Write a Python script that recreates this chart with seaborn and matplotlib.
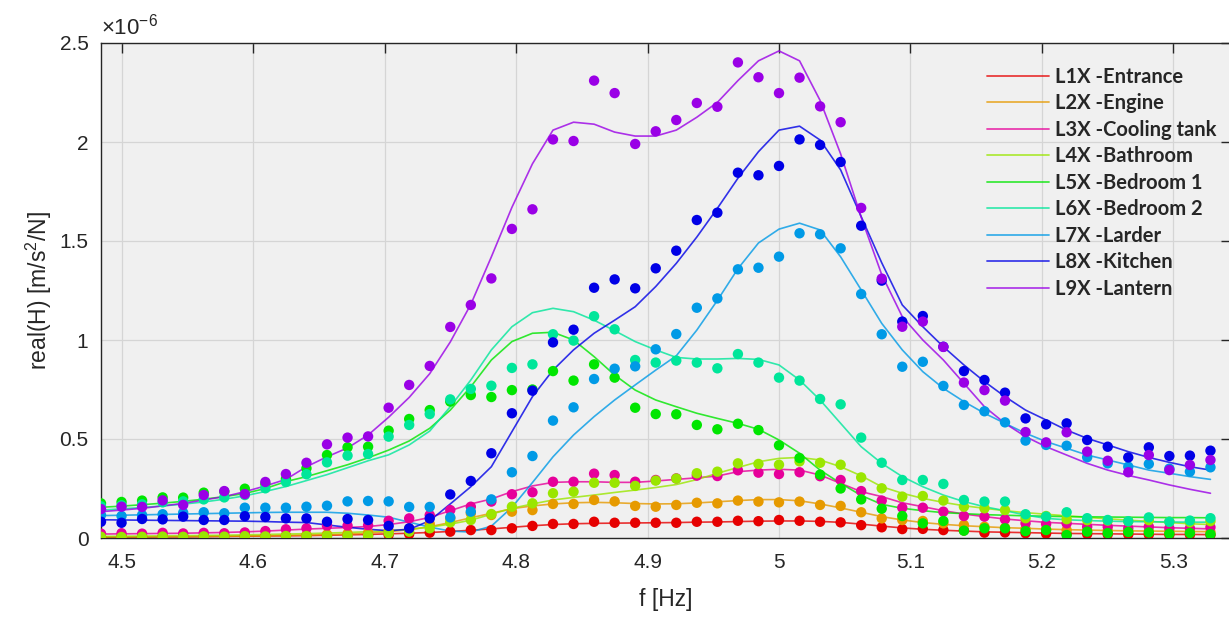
import numpy as np
import pandas as pd
import matplotlib
matplotlib.use('Agg')
import matplotlib.pyplot as plt
import seaborn as sns
from matplotlib.lines import Line2D
from matplotlib.ticker import FormatStrFormatter

# frequency bins, 1/64 Hz apart
freq = np.arange(287, 342) / 64

series = ['L1X -Entrance', 'L2X -Engine', 'L3X -Cooling tank', 'L4X -Bathroom',
          'L5X -Bedroom 1', 'L6X -Bedroom 2', 'L7X -Larder', 'L8X -Kitchen', 'L9X -Lantern']
colors = ['#e60000', '#e69a00', '#e6009a', '#9ae600', '#00e600',
          '#00e69a', '#009ae6', '#0000e6', '#9a00e6']

# measured real(H), units of 1e-6 m/s^2/N
entrance_pts = [0.005, 0.006, 0.006, 0.007, 0.007, 0.008, 0.008, 0.009, 0.010, 0.010, 0.011, 0.012, 0.013, 0.014,
                0.016, 0.020, 0.027, 0.032, 0.040, 0.040, 0.049, 0.061, 0.071, 0.071, 0.082, 0.077, 0.077, 0.077,
                0.077, 0.082, 0.082, 0.087, 0.085, 0.091, 0.087, 0.082, 0.079, 0.065, 0.054, 0.045, 0.046, 0.040,
                0.038, 0.027, 0.028, 0.024, 0.022, 0.020, 0.020, 0.018, 0.018, 0.017, 0.016, 0.016, 0.015]
engine_pts = [0.004, 0.005, 0.005, 0.006, 0.006, 0.007, 0.008, 0.009, 0.010, 0.012, 0.015, 0.018, 0.022, 0.027,
              0.035, 0.048, 0.071, 0.099, 0.125, 0.116, 0.133, 0.141, 0.172, 0.172, 0.192, 0.185, 0.162, 0.158,
              0.167, 0.178, 0.175, 0.189, 0.184, 0.180, 0.184, 0.167, 0.162, 0.130, 0.099, 0.091, 0.086, 0.074,
              0.066, 0.057, 0.052, 0.046, 0.044, 0.040, 0.038, 0.036, 0.034, 0.034, 0.032, 0.030, 0.030]
cooling_pts = [0.022, 0.024, 0.022, 0.026, 0.023, 0.026, 0.024, 0.028, 0.035, 0.044, 0.049, 0.062, 0.062, 0.064,
               0.087, 0.099, 0.116, 0.141, 0.158, 0.184, 0.221, 0.231, 0.284, 0.284, 0.325, 0.318, 0.284, 0.293,
               0.301, 0.315, 0.313, 0.342, 0.330, 0.323, 0.332, 0.312, 0.293, 0.237, 0.189, 0.153, 0.153, 0.133,
               0.111, 0.108, 0.094, 0.074, 0.071, 0.074, 0.057, 0.057, 0.049, 0.057, 0.049, 0.049, 0.054]
bathroom_pts = [0.006, 0.005, 0.006, 0.007, 0.006, 0.008, 0.007, 0.009, 0.008, 0.010, 0.010, 0.011, 0.011, 0.012,
                0.024, 0.032, 0.049, 0.079, 0.091, 0.121, 0.158, 0.175, 0.226, 0.234, 0.279, 0.279, 0.263, 0.290,
                0.300, 0.327, 0.335, 0.377, 0.374, 0.370, 0.387, 0.380, 0.370, 0.306, 0.251, 0.209, 0.212, 0.189,
                0.158, 0.150, 0.141, 0.100, 0.111, 0.095, 0.090, 0.088, 0.085, 0.090, 0.082, 0.080, 0.085]
bedroom1_pts = [0.175, 0.182, 0.189, 0.205, 0.204, 0.229, 0.234, 0.249, 0.273, 0.298, 0.352, 0.419, 0.458, 0.461,
                0.542, 0.601, 0.646, 0.689, 0.722, 0.712, 0.747, 0.750, 0.843, 0.795, 0.877, 0.810, 0.658, 0.626,
                0.625, 0.571, 0.549, 0.577, 0.545, 0.468, 0.404, 0.320, 0.250, 0.195, 0.148, 0.111, 0.074, 0.086,
                0.037, 0.049, 0.049, 0.035, 0.040, 0.015, 0.032, 0.025, 0.030, 0.028, 0.022, 0.025, 0.019]
bedroom2_pts = [0.160, 0.165, 0.170, 0.180, 0.185, 0.195, 0.205, 0.217, 0.251, 0.283, 0.322, 0.382, 0.416, 0.424,
                0.512, 0.571, 0.626, 0.700, 0.753, 0.769, 0.859, 0.877, 1.029, 0.997, 1.120, 1.054, 0.899, 0.886,
                0.896, 0.886, 0.857, 0.929, 0.886, 0.810, 0.795, 0.702, 0.675, 0.507, 0.380, 0.293, 0.293, 0.273,
                0.192, 0.184, 0.184, 0.120, 0.108, 0.130, 0.100, 0.091, 0.085, 0.104, 0.082, 0.088, 0.100]
larder_pts = [0.116, 0.111, 0.116, 0.120, 0.128, 0.130, 0.125, 0.153, 0.153, 0.153, 0.158, 0.163, 0.185, 0.187,
              0.185, 0.157, 0.157, 0.104, 0.133, 0.195, 0.332, 0.414, 0.593, 0.660, 0.803, 0.855, 0.867, 0.953,
              1.030, 1.163, 1.210, 1.357, 1.365, 1.421, 1.539, 1.534, 1.463, 1.232, 1.029, 0.865, 0.890, 0.768,
              0.672, 0.640, 0.584, 0.492, 0.470, 0.466, 0.408, 0.377, 0.360, 0.374, 0.350, 0.335, 0.357]
kitchen_pts = [0.082, 0.077, 0.096, 0.094, 0.108, 0.091, 0.091, 0.110, 0.106, 0.099, 0.099, 0.082, 0.096, 0.091,
               0.061, 0.049, 0.099, 0.220, 0.288, 0.428, 0.630, 0.744, 0.988, 1.052, 1.264, 1.306, 1.261, 1.362,
               1.451, 1.606, 1.643, 1.845, 1.832, 1.879, 2.013, 1.985, 1.899, 1.577, 1.300, 1.093, 1.121, 0.966,
               0.843, 0.798, 0.734, 0.604, 0.574, 0.579, 0.495, 0.461, 0.407, 0.458, 0.414, 0.416, 0.441]
lantern_pts = [0.146, 0.158, 0.157, 0.190, 0.167, 0.217, 0.237, 0.222, 0.283, 0.323, 0.380, 0.473, 0.507, 0.513,
               0.658, 0.773, 0.869, 1.066, 1.177, 1.311, 1.561, 1.660, 2.013, 2.005, 2.310, 2.247, 1.990, 2.054,
               2.111, 2.197, 2.178, 2.402, 2.327, 2.247, 2.325, 2.180, 2.100, 1.667, 1.310, 1.067, 1.093, 0.965,
               0.785, 0.747, 0.694, 0.535, 0.483, 0.534, 0.436, 0.390, 0.332, 0.419, 0.343, 0.369, 0.394]

# fitted curves at the same bins
entrance_fit = [0.004, 0.005, 0.005, 0.006, 0.006, 0.007, 0.008, 0.009, 0.010, 0.011, 0.012, 0.014, 0.016, 0.018,
                0.021, 0.024, 0.028, 0.033, 0.039, 0.046, 0.054, 0.062, 0.068, 0.072, 0.074, 0.075, 0.076, 0.077,
                0.078, 0.080, 0.081, 0.083, 0.085, 0.086, 0.086, 0.084, 0.079, 0.070, 0.060, 0.051, 0.044, 0.039,
                0.035, 0.031, 0.029, 0.027, 0.025, 0.023, 0.022, 0.021, 0.020, 0.019, 0.018, 0.018, 0.017]
engine_fit = [0.004, 0.005, 0.005, 0.006, 0.007, 0.008, 0.009, 0.010, 0.011, 0.013, 0.015, 0.017, 0.020, 0.025,
              0.032, 0.042, 0.057, 0.078, 0.102, 0.125, 0.148, 0.162, 0.172, 0.178, 0.180, 0.178, 0.174, 0.172,
              0.173, 0.177, 0.183, 0.189, 0.194, 0.194, 0.188, 0.172, 0.152, 0.130, 0.108, 0.091, 0.078, 0.069,
              0.062, 0.057, 0.052, 0.049, 0.045, 0.042, 0.040, 0.038, 0.036, 0.035, 0.034, 0.033, 0.032]
cooling_fit = [0.020, 0.021, 0.022, 0.023, 0.024, 0.026, 0.028, 0.031, 0.035, 0.040, 0.045, 0.049, 0.053, 0.058,
               0.068, 0.082, 0.104, 0.138, 0.172, 0.197, 0.234, 0.263, 0.281, 0.284, 0.284, 0.281, 0.281, 0.288,
               0.296, 0.304, 0.313, 0.335, 0.343, 0.347, 0.343, 0.318, 0.276, 0.234, 0.209, 0.178, 0.158, 0.138,
               0.121, 0.108, 0.096, 0.087, 0.079, 0.074, 0.069, 0.064, 0.060, 0.056, 0.052, 0.049, 0.046]
bathroom_fit = [0.008, 0.009, 0.010, 0.011, 0.012, 0.013, 0.014, 0.016, 0.018, 0.020, 0.022, 0.025, 0.028, 0.032,
                0.037, 0.044, 0.055, 0.070, 0.090, 0.120, 0.150, 0.172, 0.192, 0.205, 0.217, 0.230, 0.242, 0.255,
                0.270, 0.295, 0.327, 0.356, 0.385, 0.402, 0.407, 0.394, 0.360, 0.314, 0.259, 0.226, 0.200, 0.180,
                0.163, 0.150, 0.138, 0.128, 0.120, 0.112, 0.104, 0.097, 0.090, 0.084, 0.078, 0.072, 0.068]
bedroom1_fit = [0.155, 0.161, 0.168, 0.176, 0.185, 0.196, 0.209, 0.225, 0.250, 0.285, 0.310, 0.340, 0.370, 0.405,
                0.444, 0.490, 0.554, 0.646, 0.764, 0.899, 0.992, 1.034, 1.039, 1.000, 0.916, 0.823, 0.747, 0.697,
                0.663, 0.630, 0.604, 0.579, 0.549, 0.495, 0.428, 0.343, 0.276, 0.215, 0.170, 0.150, 0.138, 0.128,
                0.123, 0.118, 0.115, 0.112, 0.110, 0.108, 0.107, 0.106, 0.105, 0.104, 0.103, 0.103, 0.102]
bedroom2_fit = [0.141, 0.147, 0.154, 0.162, 0.171, 0.182, 0.196, 0.213, 0.235, 0.260, 0.290, 0.320, 0.355, 0.390,
                0.420, 0.470, 0.540, 0.663, 0.798, 0.950, 1.067, 1.138, 1.160, 1.143, 1.100, 1.047, 0.992, 0.950,
                0.912, 0.904, 0.904, 0.907, 0.902, 0.874, 0.798, 0.697, 0.579, 0.461, 0.377, 0.310, 0.259, 0.217,
                0.184, 0.158, 0.138, 0.116, 0.099, 0.092, 0.088, 0.085, 0.083, 0.082, 0.081, 0.080, 0.080]
larder_fit = [0.113, 0.115, 0.117, 0.119, 0.121, 0.123, 0.125, 0.127, 0.129, 0.130, 0.130, 0.130, 0.125, 0.116,
              0.105, 0.080, 0.055, 0.035, 0.030, 0.060, 0.155, 0.280, 0.410, 0.520, 0.613, 0.697, 0.773, 0.848,
              0.920, 1.050, 1.200, 1.360, 1.490, 1.560, 1.590, 1.556, 1.420, 1.253, 1.084, 0.950, 0.840, 0.756,
              0.689, 0.630, 0.579, 0.529, 0.487, 0.453, 0.419, 0.394, 0.369, 0.343, 0.327, 0.310, 0.296]
kitchen_fit = [0.092, 0.091, 0.090, 0.089, 0.088, 0.087, 0.086, 0.085, 0.083, 0.080, 0.078, 0.066, 0.054, 0.044,
               0.037, 0.044, 0.087, 0.172, 0.259, 0.360, 0.537, 0.714, 0.848, 0.950, 1.034, 1.100, 1.168, 1.270,
               1.387, 1.520, 1.665, 1.817, 1.951, 2.060, 2.080, 2.010, 1.859, 1.623, 1.390, 1.177, 1.067, 0.966,
               0.874, 0.790, 0.714, 0.646, 0.596, 0.545, 0.503, 0.470, 0.436, 0.407, 0.382, 0.360, 0.343]
lantern_fit = [0.133, 0.141, 0.150, 0.162, 0.175, 0.192, 0.209, 0.234, 0.263, 0.296, 0.360, 0.410, 0.455, 0.520,
               0.610, 0.710, 0.830, 0.990, 1.180, 1.420, 1.670, 1.890, 2.060, 2.100, 2.090, 2.050, 2.030, 2.030,
               2.060, 2.125, 2.200, 2.310, 2.410, 2.460, 2.410, 2.210, 1.940, 1.620, 1.330, 1.118, 1.000, 0.899,
               0.781, 0.663, 0.579, 0.512, 0.461, 0.419, 0.377, 0.343, 0.316, 0.293, 0.268, 0.246, 0.226]

pts = [entrance_pts, engine_pts, cooling_pts, bathroom_pts, bedroom1_pts,
       bedroom2_pts, larder_pts, kitchen_pts, lantern_pts]
fits = [entrance_fit, engine_fit, cooling_fit, bathroom_fit, bedroom1_fit,
        bedroom2_fit, larder_fit, kitchen_fit, lantern_fit]

pts_df = pd.concat([pd.DataFrame({'f': freq, 'H': p, 'series': s}) for s, p in zip(series, pts)])
fit_df = pd.concat([pd.DataFrame({'f': freq, 'H': p, 'series': s}) for s, p in zip(series, fits)])

sns.set_theme(style='whitegrid', rc={
    'axes.facecolor': '#f0f0f0',
    'axes.edgecolor': '#262626',
    'axes.linewidth': 1.0,
    'grid.color': '#d5d5d5',
    'grid.linewidth': 0.9,
})
plt.rcParams['font.family'] = ['Liberation Sans', 'DejaVu Sans']
plt.rcParams['mathtext.fontset'] = 'custom'
plt.rcParams['mathtext.rm'] = 'Liberation Sans'
plt.rcParams['mathtext.it'] = 'Liberation Sans:italic'

fig = plt.figure(figsize=(12.29, 6.17), dpi=100)
ax = fig.add_axes([101 / 1229, 79 / 617, 1130 / 1229, 495 / 617])

palette = dict(zip(series, colors))
sns.lineplot(data=fit_df, x='f', y='H', hue='series', palette=palette, estimator=None,
             sort=False, lw=1.2, alpha=0.8, legend=False, ax=ax)
sns.scatterplot(data=pts_df, x='f', y='H', hue='series', palette=palette, s=56,
                linewidth=0, legend=False, ax=ax, zorder=3)

ax.set_xlim(287 / 64, 342 / 64)
ax.set_ylim(0, 2.5)
ax.set_xticks([4.5, 4.6, 4.7, 4.8, 4.9, 5.0, 5.1, 5.2, 5.3])
ax.set_yticks([0, 0.5, 1, 1.5, 2, 2.5])
ax.xaxis.set_major_formatter(FormatStrFormatter('%g'))
ax.yaxis.set_major_formatter(FormatStrFormatter('%g'))
ax.tick_params(direction='in', top=True, right=True, length=7, width=1.0,
               labelsize=15, colors='#262626')
ax.tick_params(axis='x', pad=11)
ax.tick_params(axis='y', pad=9)
for side in ['top', 'bottom', 'left', 'right']:
    ax.spines[side].set_visible(True)

ax.set_xlabel('f [Hz]', fontsize=16.5, color='#262626')
ax.set_ylabel('real(H) [m/s$^2$/N]', fontsize=16.5, color='#262626')
ax.xaxis.set_label_coords(0.5, -0.102)
ax.yaxis.set_label_coords(-0.042, 0.5)
ax.text(0.0, 1.008, r'$\times$10$^{-6}$', transform=ax.transAxes, fontsize=16,
        color='#262626', ha='left', va='bottom')

handles = [Line2D([], [], color=c, lw=1.3, alpha=0.75) for c in colors]
ax.legend(handles, series, loc='upper left', bbox_to_anchor=(987 / 1229, 1 - 67 / 617),
          bbox_transform=fig.transFigure, frameon=False, borderpad=0, borderaxespad=0,
          handlelength=3.1, handletextpad=0.3, labelspacing=0.32,
          prop={'family': 'Lato', 'weight': 'bold', 'size': 14.5})

fig.savefig('out.png', dpi=100)
